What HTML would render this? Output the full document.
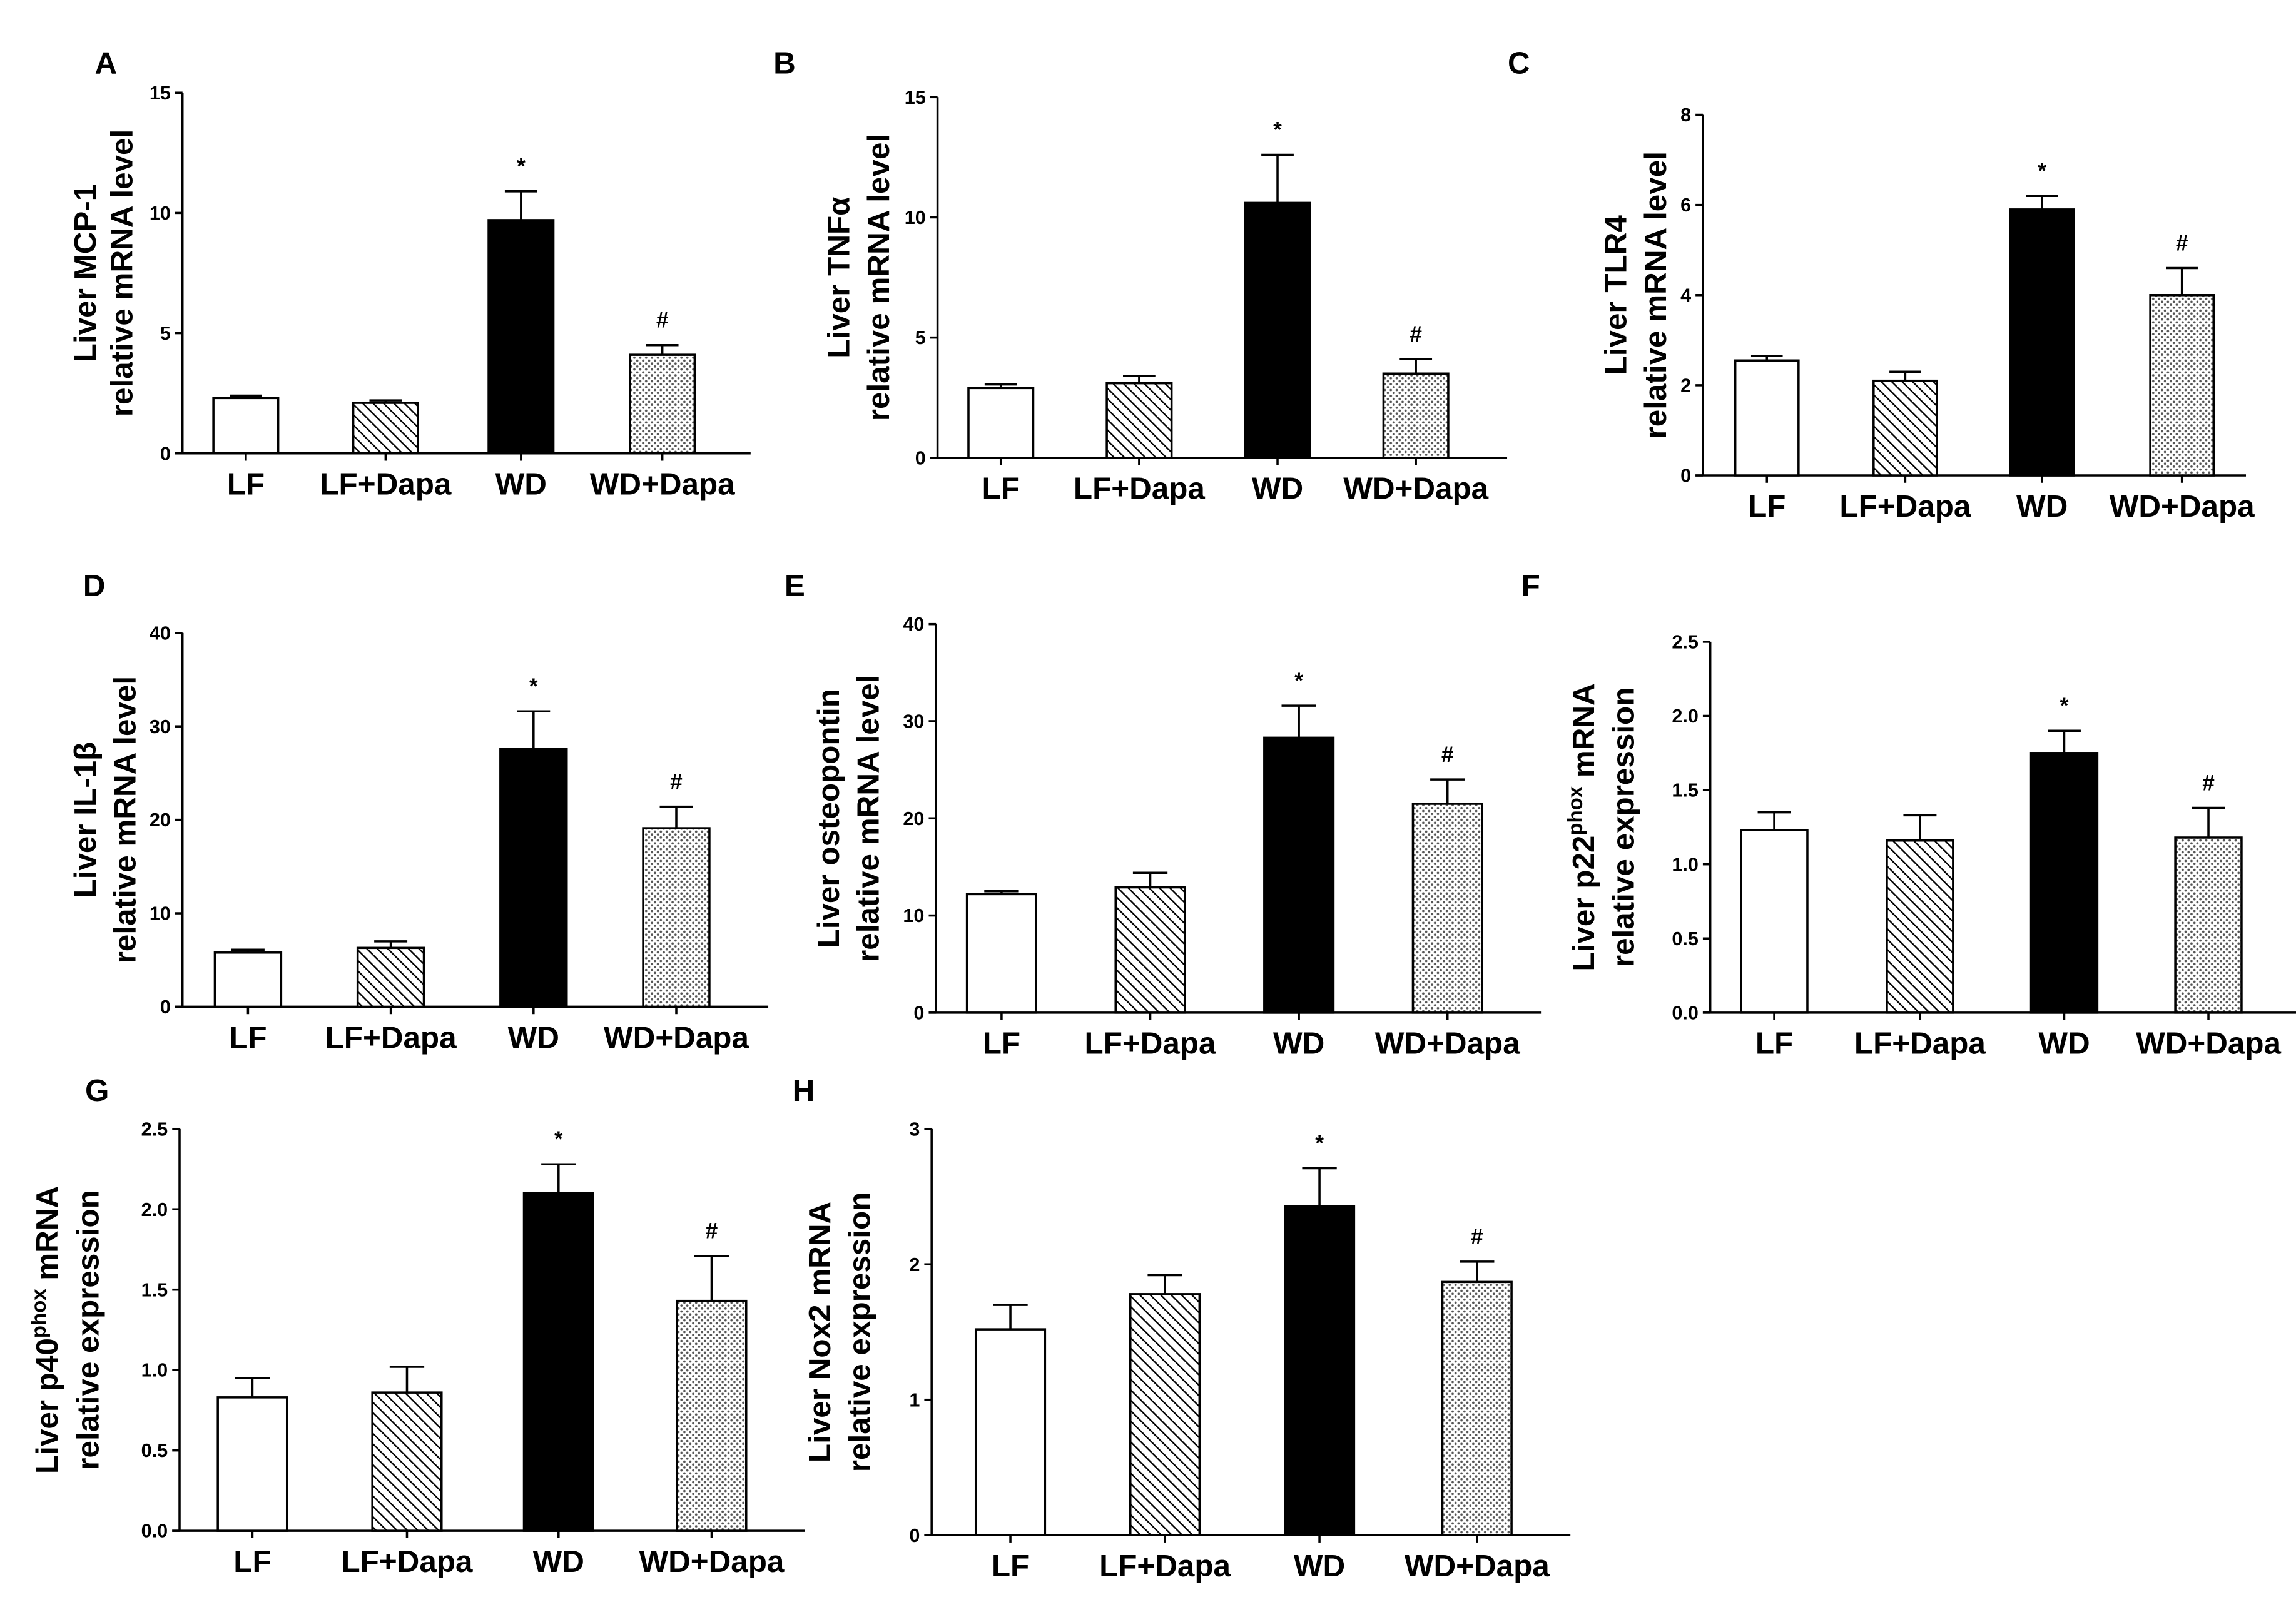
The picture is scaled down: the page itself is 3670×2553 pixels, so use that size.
<!DOCTYPE html>
<html><head><meta charset="utf-8">
<style>
html,body{margin:0;padding:0;background:#fff;}
svg{display:block;font-family:"Liberation Sans",Arial,sans-serif;}
</style></head>
<body>
<svg id="fig" width="3670" height="2553" viewBox="0 0 1560 1085" preserveAspectRatio="none" xmlns="http://www.w3.org/2000/svg">
<defs>
<pattern id="hatch" patternUnits="userSpaceOnUse" width="5" height="5" patternTransform="rotate(-45)">
<rect width="5" height="5" fill="#fff"/><line x1="0" y1="0" x2="0" y2="5" stroke="#000" stroke-width="2"/>
</pattern>
<pattern id="dots" patternUnits="userSpaceOnUse" width="4" height="4">
<rect width="4" height="4" fill="#fff"/><circle cx="1" cy="1" r="0.8" fill="#555"/><circle cx="3" cy="3" r="0.8" fill="#555"/>
</pattern>
</defs>
</svg>
<script>
const categories = ["LF","LF+Dapa","WD","WD+Dapa"];
const mcpMeans = [2.3, 2.1, 9.7, 4.1];
const mcpErr = [0.1, 0.1, 1.2, 0.4];
const tnfMeans = [2.9, 3.1, 10.6, 3.5];
const tnfErr = [0.15, 0.3, 2.0, 0.6];
const tlrMeans = [2.55, 2.1, 5.9, 4.0];
const tlrErr = [0.1, 0.2, 0.3, 0.6];
const il1Means = [5.8, 6.3, 27.6, 19.1];
const il1Err = [0.3, 0.7, 4.0, 2.3];
const opnMeans = [12.2, 12.9, 28.3, 21.5];
const opnErr = [0.3, 1.5, 3.3, 2.5];
const p22Means = [1.23, 1.16, 1.75, 1.18];
const p22Err = [0.12, 0.17, 0.15, 0.2];
const p40Means = [0.83, 0.86, 2.1, 1.43];
const p40Err = [0.12, 0.16, 0.18, 0.28];
const noxMeans = [1.52, 1.78, 2.43, 1.87];
const noxErr = [0.18, 0.14, 0.28, 0.15];
const marks = ["", "", "*", "#"];
const ticksA = ["0","5","10","15"];
const ticksC = ["0","2","4","6","8"];
const ticksD = ["0","10","20","30","40"];
const ticksF = ["0.0","0.5","1.0","1.5","2.0","2.5"];
const ticksH = ["0","1","2","3"];

const panels = [
 {id:"A",means:mcpMeans,err:mcpErr,ticks:ticksA,ax:124,top:63,bot:308,bx:[145,240,332,428],bw:44,xe:38,lx:72,ly:42,t1:"Liver MCP-1",t2:"relative mRNA level",tx:[58,83]},
 {id:"B",means:tnfMeans,err:tnfErr,ticks:ticksA,ax:637,top:66,bot:311,bx:[658,752,846,940],bw:44,xe:40,lx:533,ly:42,t1:"Liver TNFα",t2:"relative mRNA level",tx:[570,597]},
 {id:"C",means:tlrMeans,err:tlrErr,ticks:ticksC,ax:1157,top:78,bot:323,bx:[1179,1273,1366,1461],bw:43,xe:22,lx:1032,ly:42,t1:"Liver TLR4",t2:"relative mRNA level",tx:[1098,1125]},
 {id:"D",means:il1Means,err:il1Err,ticks:ticksD,ax:124,top:430,bot:684,bx:[146,243,340,437],bw:45,xe:40,lx:64,ly:397,t1:"Liver IL-1β",t2:"relative mRNA level",tx:[58,85]},
 {id:"E",means:opnMeans,err:opnErr,ticks:ticksD,ax:636,top:424,bot:688,bx:[657,758,859,960],bw:47,xe:40,lx:540,ly:397,t1:"Liver osteopontin",t2:"relative mRNA level",tx:[563,590]},
 {id:"F",means:p22Means,err:p22Err,ticks:ticksF,ax:1162,top:436,bot:688,bx:[1183,1282,1380,1478],bw:45,xe:40,lx:1040,ly:397,t1:"Liver p22",sup:"phox",t1b:" mRNA",t2:"relative expression",tx:[1076,1103]},
 {id:"G",means:p40Means,err:p40Err,ticks:ticksF,ax:122,top:767,bot:1040,bx:[148,253,356,460],bw:47,xe:40,lx:66,ly:740,t1:"Liver p40",sup:"phox",t1b:" mRNA",t2:"relative expression",tx:[32,60]},
 {id:"H",means:noxMeans,err:noxErr,ticks:ticksH,ax:633,top:767,bot:1043,bx:[663,768,873,980],bw:47,xe:40,lx:546,ly:740,t1:"Liver Nox2 mRNA",t2:"relative expression",tx:[557,584]}
];
const fills = ["#fff","url(#hatch)","#000","url(#dots)"];
const svg = document.getElementById('fig');
const NS = "http://www.w3.org/2000/svg";
function mk(tag, attrs, parent){const e=document.createElementNS(NS,tag);for(const k in attrs)e.setAttribute(k,attrs[k]);(parent||svg).appendChild(e);return e;}

panels.forEach(p=>{
  const g = mk('g',{});
  
  
  const maxV = parseFloat(p.ticks[p.ticks.length-1]);
  const y = v => p.bot - (v/maxV)*(p.bot-p.top);
  const xEnd = p.bx[3]+p.bw+p.xe;
  const L = mk('text',{x:p.lx,y:p.ly+8,'font-size':21,'font-weight':'bold','text-anchor':'middle'},g);
  L.textContent=p.id;
  
  
  const ya = mk('line',{x1:p.ax,y1:p.top,x2:p.ax,y2:p.bot,stroke:'#000','stroke-width':1.5},g);
  
  
  const xa = mk('line',{x1:p.ax-5,y1:p.bot,x2:xEnd,y2:p.bot,stroke:'#000','stroke-width':1.5},g);
  
  
  p.ticks.forEach(t=>{
    const ty=y(parseFloat(t));
    mk('line',{x1:p.ax-5,y1:ty,x2:p.ax,y2:ty,stroke:'#000','stroke-width':1.5},g);
    const tt=mk('text',{x:p.ax-8,y:ty+4.5,'font-size':13,'font-weight':'bold','text-anchor':'end'},g);
    tt.textContent=t;
    
    
  });
  const cy=(p.top+p.bot)/2;
  const t1=mk('text',{x:0,y:0,'font-size':21,'font-weight':'bold','text-anchor':'middle',transform:`translate(${p.tx[0]+7},${cy}) rotate(-90)`},g);
  
  
  if(p.sup){
    const a=mk('tspan',{},t1);a.textContent=p.t1;
    const s=mk('tspan',{'font-size':14,dy:-8},t1);s.textContent=p.sup;
    const b=mk('tspan',{dy:8},t1);b.textContent=p.t1b;
  } else t1.textContent=p.t1;
  const t2=mk('text',{x:0,y:0,'font-size':21,'font-weight':'bold','text-anchor':'middle',transform:`translate(${p.tx[1]+7},${cy}) rotate(-90)`},g);
  t2.textContent=p.t2;
  
  
  p.means.forEach((v,i)=>{
    const x=p.bx[i], w=p.bw, top=y(v), et=y(v+p.err[i]), cx=x+w/2;
    const eb=mk('line',{x1:cx,y1:top,x2:cx,y2:et,stroke:'#000','stroke-width':1.5},g);
    
    
    mk('line',{x1:cx-w/4,y1:et,x2:cx+w/4,y2:et,stroke:'#000','stroke-width':1.5},g);
    const r=mk('rect',{x:x,y:top,width:w,height:p.bot-top,fill:fills[i],stroke:'#000','stroke-width':1.5},g);
    
    
    mk('line',{x1:cx,y1:p.bot,x2:cx,y2:p.bot+5,stroke:'#000','stroke-width':1.5},g);
    if(marks[i]){
      const m=mk('text',{x:cx,y:et-12,'font-size':15,'font-weight':'bold','text-anchor':'middle'},g);
      m.textContent=marks[i];
      
      
    }
    const cl=mk('text',{x:cx,y:p.bot+28,'font-size':21,'font-weight':'bold','text-anchor':'middle'},g);
    cl.textContent=categories[i];
    
    
  });
});
</script>
</body></html>
